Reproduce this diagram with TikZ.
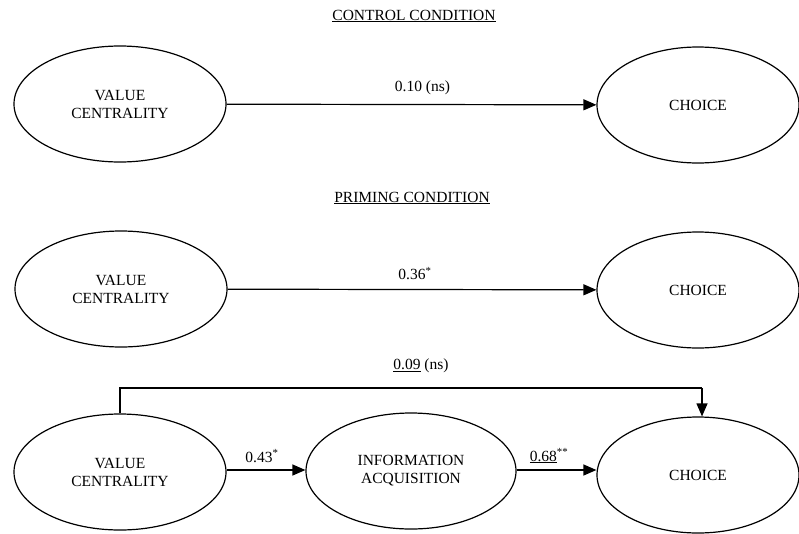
\documentclass[tikz,border=0pt]{standalone}
\usepackage{fontspec}
\setmainfont{Liberation Serif}
\usetikzlibrary{shapes.geometric,arrows.meta}
\begin{document}
\begin{tikzpicture}[x=1pt,y=-1pt,
  every node/.style={font=\fontsize{15.5}{18}\selectfont},
  oval/.style={draw,ellipse,line width=1.2pt,minimum width=212pt,minimum height=116pt,inner sep=0pt,align=center},
  choiceoval/.style={oval,minimum width=202pt},
  link/.style={line width=1.2pt,-{Triangle[length=13pt,width=11pt]}},
  plain/.style={line width=1.2pt},
  lbl/.style={inner sep=1pt}]
\useasboundingbox (0,0) rectangle (799,533);
% titles
\node (t1) at (414,16) {\underline{CONTROL CONDITION}};
\node (t2) at (412,198) {\underline{PRIMING CONDITION}};
% row 1
\node[oval] (vc1) at (120,104) {VALUE\\CENTRALITY};
\node[choiceoval] (ch1) at (698,105) {CHOICE};
\draw[link] (vc1) -- (ch1) node[lbl,midway,above=8pt,xshift=11pt] (l1) {0.10 (ns)};
% row 2
\node[oval] (vc2) at (121,289) {VALUE\\CENTRALITY};
\node[choiceoval] (ch2) at (698,290) {CHOICE};
\draw[link] (vc2) -- (ch2) node[lbl,midway,above=8pt,xshift=3pt] (l2) {0.36\textsuperscript{*}};
% row 3
\node[oval] (vc3) at (120,472) {VALUE\\CENTRALITY};
\node[oval,minimum width=210pt] (ia) at (411,471) {INFORMATION\\ACQUISITION};
\node[choiceoval] (ch3) at (698,475) {CHOICE};
\draw[link] (vc3.east |- 0,470) -- (ia.west |- 0,470) coordinate (a43);
\node[lbl] (l43) at (262,456) {0.43\textsuperscript{*}};
\draw[link] (ia.east |- 0,470) -- (ch3.west |- 0,470);
\node[lbl] (l68) at (549,456) {\underline{0.68}\textsuperscript{**}};
\coordinate (c1) at (120,388);
\coordinate (c2) at (702,388);
\draw[plain] (vc3.north) -- (c1) -- (c2);
\draw[link] (c2) -- (ch3.north -| c2);
\node[lbl] (l09) at (421,366) {\underline{0.09} (ns)};
\end{tikzpicture}
\end{document}
